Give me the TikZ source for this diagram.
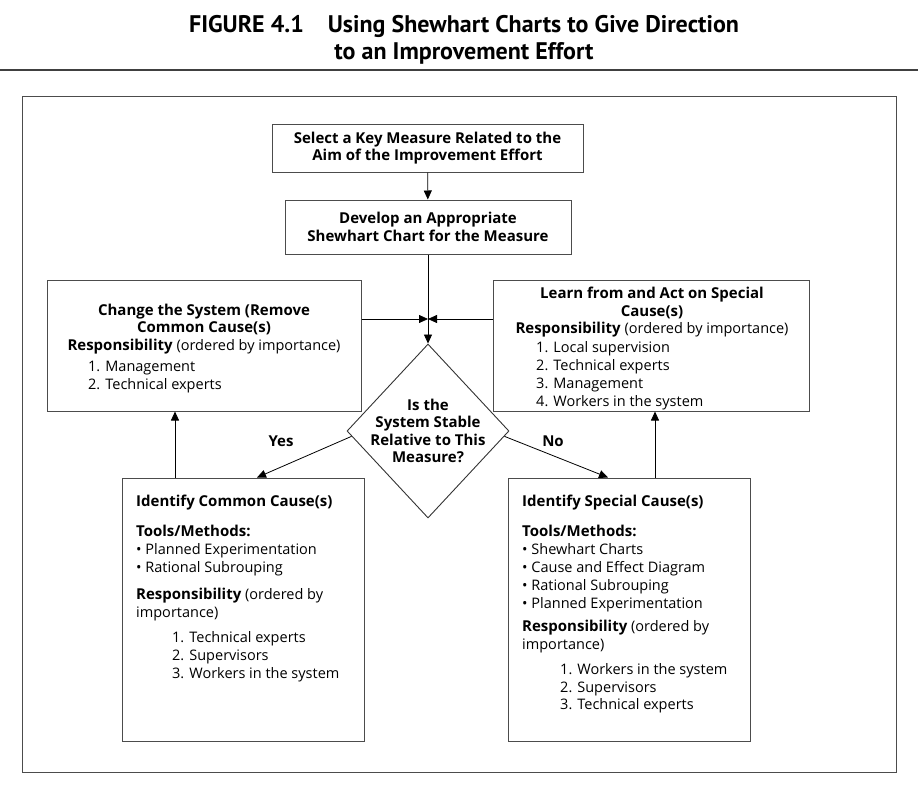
\documentclass[tikz,border=0pt]{standalone}
\usepackage{fontspec}
\setmainfont{Open Sans}
\newfontfamily\titlefont{PT Sans}
\newcommand\hb[1]{{\fontsize{15}{17.8}\selectfont\bfseries #1}}
\usetikzlibrary{shapes.geometric,arrows.meta,positioning}

\begin{document}
\begin{tikzpicture}[x=1pt, y=-1pt,
    box/.style={draw=black!70, line width=1pt, inner sep=0pt},
    flow/.style={-{Triangle[length=9pt, width=8pt]}, line width=0.8pt},
    head/.style={font=\fontsize{15}{17.5}\selectfont\bfseries, align=center, inner sep=0pt},
    body/.style={font=\fontsize{14.5}{17.8}\selectfont, align=left, anchor=north west, inner sep=0pt},
    title/.style={font=\titlefont\fontsize{24}{27}\selectfont\bfseries, align=center}
]
\useasboundingbox (0,0) rectangle (918,795);

% === Title and rule ===
\node[title] (caption) at (464,40) {FIGURE 4.1\quad Using Shewhart Charts to Give Direction\\to an Improvement Effort};
\draw[line width=1.2pt, black!75] (0,70) -- (918,70);

% Outer frame
\node[draw=black!70, line width=0.8pt, minimum width=874, minimum height=676] (frame) at (459,434) {};

% === Top of the flow ===
\node[box, head, minimum width=311, minimum height=48] (measure) at (427.5,148)
    {Select a Key Measure Related to the\\Aim of the Improvement Effort};
\node[box, head, minimum width=286, minimum height=54] (develop) at (428,227)
    {Develop an Appropriate\\Shewhart Chart for the Measure};

% Decision
\node[diamond, draw=black!80, line width=0.9pt, minimum width=162, minimum height=174, inner sep=0pt] (stable) at (428,431) {};
\node[head] (stable-text) at (428,431) {Is the\\System Stable\\Relative to This\\Measure?};

% === Upper side boxes ===
\node[box, minimum width=314, minimum height=131] (change) at (204,345.5) {};
\node[head, anchor=north] (change-head) at (204,303.5) {Change the System (Remove\\Common Cause(s)\\\textbf{Responsibility} \mdseries\fontsize{14.5}{17.5}\selectfont(ordered by importance)};
\node[body] (change-list) at (88,361) {1. Management\\2. Technical experts};

\node[box, minimum width=316, minimum height=131] (learn) at (651,345.5) {};
\node[head, anchor=north] (learn-head) at (652,287) {Learn from and Act on Special\\Cause(s)\\\textbf{Responsibility} \mdseries\fontsize{14.5}{17.5}\selectfont(ordered by importance)};
\node[body] (learn-list) at (536,341.5) {1. Local supervision\\2. Technical experts\\3. Management\\4. Workers in the system};

% === Lower boxes ===
\node[box, minimum width=242, minimum height=263] (common) at (243,609.5) {};
\node[body] (common-text) at (136,494.5) {\hb{Identify Common Cause(s)}\\[13pt]
    \hb{Tools/Methods:}\\
    \textbullet{} Planned Experimentation\\
    \textbullet{} Rational Subrouping\\[9.5pt]
    \hb{Responsibility} (ordered by\\
    importance)};
\node[body] (common-list) at (172,631.5) {1. Technical experts\\2. Supervisors\\3. Workers in the system};

\node[box, minimum width=242, minimum height=263] (special) at (629,609.5) {};
\node[body] (special-text) at (522,494.5) {\hb{Identify Special Cause(s)}\\[13pt]
    \hb{Tools/Methods:}\\
    \textbullet{} Shewhart Charts\\
    \textbullet{} Cause and Effect Diagram\\
    \textbullet{} Rational Subrouping\\
    \textbullet{} Planned Experimentation\\[6pt]
    \hb{Responsibility} (ordered by\\
    importance)};
\node[body] (special-list) at (560,663) {1. Workers in the system\\2. Supervisors\\3. Technical experts};

% === Connectors ===
\coordinate (join) at (428,319);
\coordinate (upL) at (175,0);
\coordinate (upR) at (655,0);

\draw[flow] (measure) -- (develop);
\draw[flow] (develop) -- (stable);
\draw[flow] (change.east |- join) -- (join);
\draw[flow] (learn.west |- join) -- (join);

\draw[flow] (stable.184) -- ([xshift=14pt]common.north);
\draw[flow] (stable.356) -- ([xshift=-21pt]special.north);
\node[head] (yes) at (281,441) {Yes};
\node[head] (no) at (553,441) {No};

\draw[flow] (common.north -| upL) -- (change.south -| upL);
\draw[flow] (special.north -| upR) -- (learn.south -| upR);

\end{tikzpicture}
\end{document}
